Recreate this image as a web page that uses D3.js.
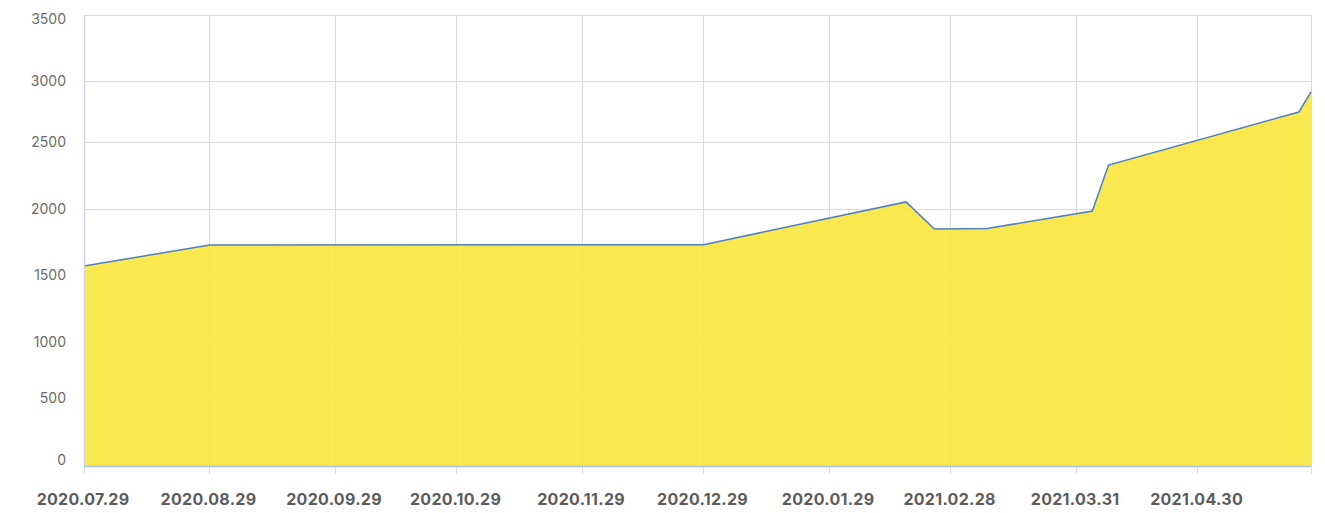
<!DOCTYPE html>
<html>
<head>
<meta charset="utf-8">
<script src="https://cdn.jsdelivr.net/npm/d3@7"></script>
<style>
  html, body { margin: 0; padding: 0; background: #fff; }
  svg { display: block; }
  text { font-family: "Inter", "Open Sans", sans-serif; }
</style>
</head>
<body>
<svg id="chart" width="1325" height="513"></svg>
<script>
// ---- data ----
const dates = ["2020-07-29","2020-08-29","2020-12-29","2021-02-17","2021-02-24","2021-03-09","2021-04-04","2021-04-08","2021-05-25","2021-05-28"];
const values = [1568, 1727, 1730, 2053, 1848, 1852, 1985, 2328, 2746, 2910];
const tickDates = ["2020-07-29","2020-08-29","2020-09-29","2020-10-29","2020-11-29","2020-12-29","2021-01-29","2021-02-28","2021-03-31","2021-04-30"];
const tickLabels = ["2020.07.29","2020.08.29","2020.09.29","2020.10.29","2020.11.29","2020.12.29","2020.01.29","2021.02.28","2021.03.31","2021.04.30"];
const yTicks = [0, 500, 1000, 1500, 2000, 2500, 3000, 3500];
const yPixelStops = [466, 398, 342, 275, 209, 142, 81, 15];

(function () {
const parse = d3.utcParse("%Y-%m-%d");
const data = dates.map((d, i) => ({ date: parse(d), value: values[i] }));

const svg = d3.select("#chart");
const mLeft = 84, mRight = 1311, mTop = 15, mBottom = 466;

const x = d3.scaleUtc()
  .domain([parse("2020-07-29"), parse("2021-05-28")])
  .range([mLeft, mRight]);
// reference axis spacing is slightly irregular; piecewise-linear scale reproduces it
const y = d3.scaleLinear().domain(yTicks).range(yPixelStops);

// horizontal grid
svg.append("g").selectAll("line").data(yTicks).join("line")
  .attr("x1", mLeft).attr("x2", mRight)
  .attr("y1", d => y(d) + 0.5).attr("y2", d => y(d) + 0.5)
  .attr("stroke", "#dcdcdc").attr("stroke-width", 1);

// vertical grid + ticks
const tickD = tickDates.map(parse);
svg.append("g").selectAll("line").data(tickD).join("line")
  .attr("x1", d => Math.floor(x(d)) + 0.5).attr("x2", d => Math.floor(x(d)) + 0.5)
  .attr("y1", mTop).attr("y2", mBottom + 8)
  .attr("stroke", "#dcdcdc").attr("stroke-width", 1);
svg.append("line")
  .attr("x1", mRight + 0.5).attr("x2", mRight + 0.5)
  .attr("y1", mTop).attr("y2", mBottom + 8)
  .attr("stroke", "#dcdcdc");

// area
const area = d3.area().x(d => x(d.date)).y0(y(0)).y1(d => y(d.value));
svg.append("path").datum(data)
  .attr("d", area)
  .attr("fill", "rgb(250,230,60)").attr("fill-opacity", 0.9);

// line
const line = d3.line().x(d => x(d.date)).y(d => y(d.value));
svg.append("path").datum(data)
  .attr("d", line)
  .attr("fill", "none").attr("stroke", "#4f7fc4").attr("stroke-width", 1.5);

// axis lines
svg.append("line")
  .attr("x1", mLeft).attr("x2", mRight)
  .attr("y1", mBottom + 0.5).attr("y2", mBottom + 0.5)
  .attr("stroke", "#a9c1e2").attr("stroke-width", 1.5);
svg.append("line")
  .attr("x1", mLeft + 0.5).attr("x2", mLeft + 0.5)
  .attr("y1", mTop).attr("y2", mBottom)
  .attr("stroke", "#c8d3e6").attr("stroke-width", 1.5);

// y labels
svg.append("g").selectAll("text").data(yTicks).join("text")
  .attr("x", 66)
  .attr("y", (d, i) => i === 0 ? y(d) - 5 : (i === yTicks.length - 1 ? y(d) + 5 : y(d) + 1))
  .attr("text-anchor", "end")
  .attr("dominant-baseline", "middle")
  .attr("font-size", 14)
  .attr("fill", "#6b6b6b")
  .text(d => d);

// x labels
svg.append("g").selectAll("text").data(tickD).join("text")
  .attr("x", d => x(d) - 1)
  .attr("y", 505)
  .attr("text-anchor", "middle")
  .attr("font-size", 16)
  .attr("font-weight", "bold")
  .attr("letter-spacing", 0.3)
  .attr("fill", "#5c5c5c")
  .text((d, i) => tickLabels[i]);
})();
</script>
</body>
</html>
